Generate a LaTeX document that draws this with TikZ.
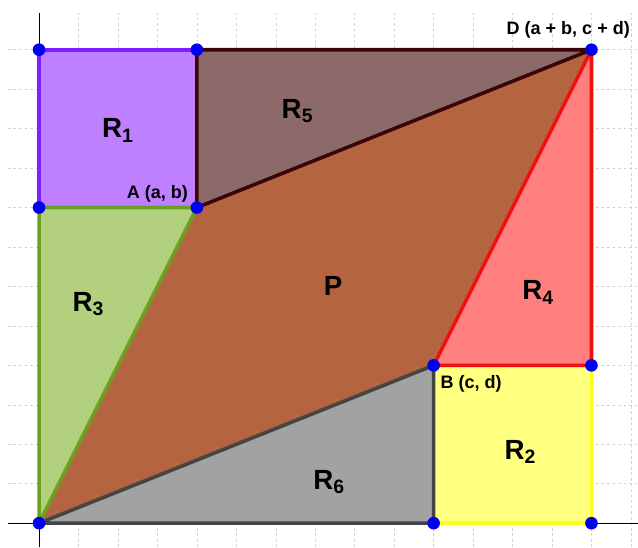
\documentclass[tikz,border=0pt]{standalone}
\usepackage{fontspec}
\setmainfont{Liberation Sans}
\usepackage{tikz}
\definecolor{rpurple}{HTML}{BF80FF}
\definecolor{rpurpleline}{HTML}{7F1FFF}
\definecolor{rbrown}{HTML}{8C6A6A}
\definecolor{rbrownline}{HTML}{3A0505}
\definecolor{pfill}{HTML}{B4653F}
\definecolor{rgreen}{HTML}{B3D07F}
\definecolor{rgreenline}{HTML}{6AA121}
\definecolor{rred}{HTML}{FF7F7F}
\definecolor{rredline}{HTML}{F01010}
\definecolor{ryellow}{HTML}{FFFF80}
\definecolor{ryellowline}{HTML}{FFFF1A}
\definecolor{rgray}{HTML}{A2A2A2}
\definecolor{rgrayline}{HTML}{454545}
\definecolor{ptblue}{HTML}{0000F0}

\begin{document}
\begin{tikzpicture}[
  region/.style={line width=2.6pt,line join=round},
  regionlabel/.style={font=\fontsize{20}{24}\selectfont\bfseries},
  ptlabel/.style={font=\fontsize{13}{15}\selectfont\bfseries,inner sep=0pt},
  gridline/.style={gray!35,dash pattern=on 2pt off 2pt,line width=0.4pt},
  axisline/.style={black,line width=0.5pt},
  dot/.style={circle,fill=ptblue,inner sep=0pt,minimum size=0.32cm}
]
\useasboundingbox (-0.99,-0.61) rectangle (15.18,13.26);
% grid and axes
\foreach \x in {1,...,15}
  \draw[gridline] (\x,-0.61) -- (\x,12.93);
\foreach \y in {1,...,12}
  \draw[gridline] (-0.79,\y) -- (15.18,\y);
\draw[axisline] (0,-0.61) -- (0,12.93);
\draw[axisline] (-0.79,0) -- (15.18,0);

% corner points
\coordinate (O) at (0,0);
\coordinate (A) at (4,8);
\coordinate (B) at (10,4);
\coordinate (D) at (14,12);
\coordinate (TL) at (0,12);
\coordinate (AT) at (4,12);
\coordinate (AL) at (0,8);
\coordinate (BR) at (14,4);
\coordinate (BB) at (10,0);
\coordinate (DR) at (14,0);

% regions
\fill[pfill] (O) -- (A) -- (D) -- (B) -- cycle;
\draw[region,fill=rpurple,draw=rpurpleline] (AL) -- (TL) -- (AT) -- (A) -- cycle;
\draw[region,fill=ryellow,draw=ryellowline] (BB) -- (B) -- (BR) -- (DR) -- cycle;
\draw[region,fill=rbrown,draw=rbrownline] (A) -- (AT) -- (D) -- cycle;
\draw[region,fill=rgreen,draw=rgreenline] (O) -- (AL) -- (A) -- cycle;
\draw[region,fill=rred,draw=rredline] (B) -- (D) -- (BR) -- cycle;
\draw[region,fill=rgray,draw=rgrayline] (O) -- (B) -- (BB) -- cycle;

% labels
\node[regionlabel] (r1) at (2.0,9.95) {R\textsubscript{1}};
\node[regionlabel] (r5) at (6.55,10.45) {R\textsubscript{5}};
\node[regionlabel] (p) at (7.45,6.0) {P};
\node[regionlabel] (r3) at (1.25,5.55) {R\textsubscript{3}};
\node[regionlabel] (r4) at (12.65,5.85) {R\textsubscript{4}};
\node[regionlabel] (r2) at (12.2,1.8) {R\textsubscript{2}};
\node[regionlabel] (r6) at (7.35,1.05) {R\textsubscript{6}};

\node[ptlabel,anchor=south east] (la) at ([shift={(-0.22,0.13)}]A) {A (a, b)};
\node[ptlabel,anchor=north west] (lb) at ([shift={(0.17,-0.24)}]B) {B (c, d)};
\node[ptlabel,anchor=south east] (ld) at ([shift={(0.98,0.28)}]D) {D (a + b, c + d)};

% points
\foreach \p in {O,A,B,D,TL,AT,AL,BR,BB,DR}
  \node[dot] at (\p) {};
\end{tikzpicture}
\end{document}
